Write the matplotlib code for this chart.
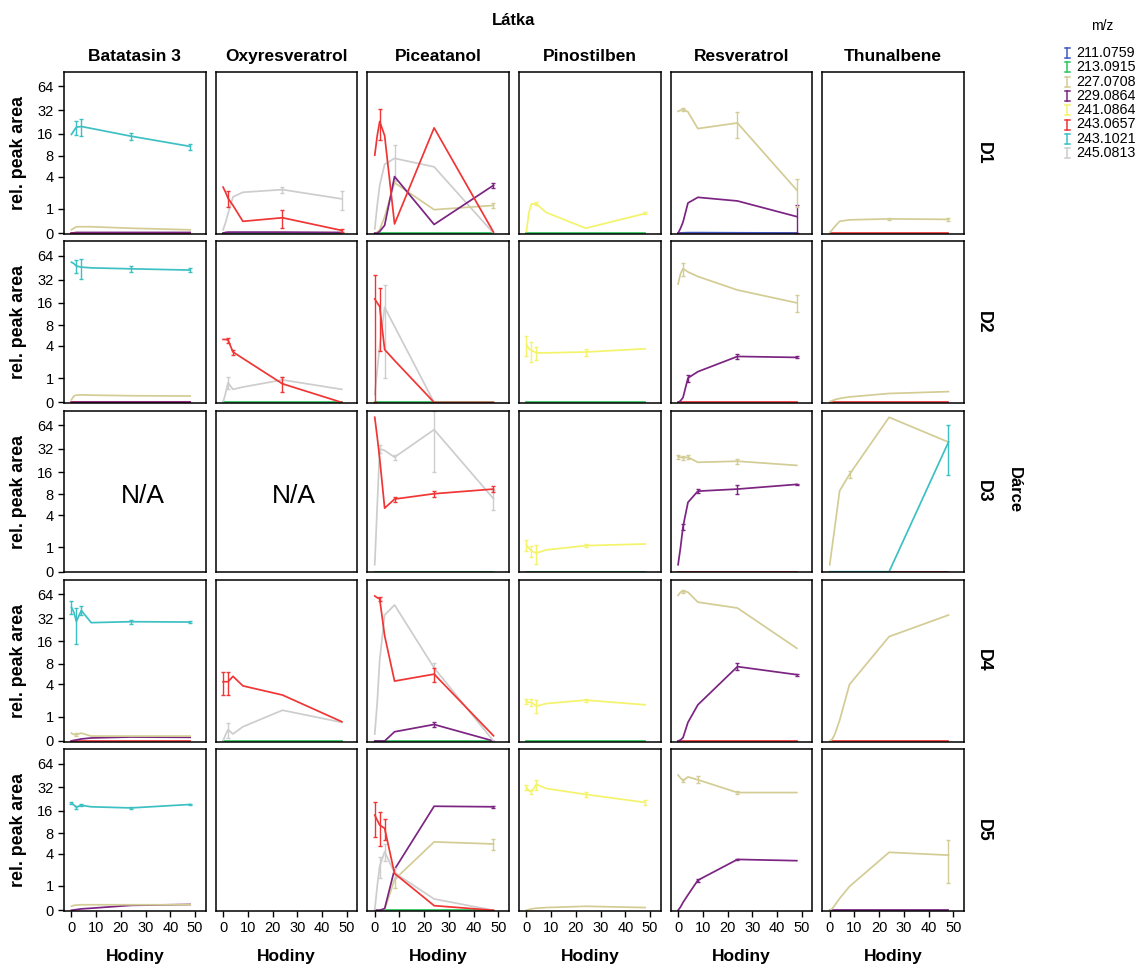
"""Relative peak area over time, faceted by donor (rows) and substance (columns)."""

import matplotlib

matplotlib.use("Agg")
import matplotlib.pyplot as plt
import numpy as np
from matplotlib.lines import Line2D

plt.rcParams["font.family"] = ["Liberation Sans", "DejaVu Sans"]

HOURS = [0, 1, 2, 4, 8, 24, 48]
SUBSTANCES = ["Batatasin 3", "Oxyresveratrol", "Piceatanol", "Pinostilben", "Resveratrol", "Thunalbene"]
DONORS = ["D1", "D2", "D3", "D4", "D5"]
MZ_LABELS = ["211.0759", "213.0915", "227.0708", "229.0864", "241.0864", "243.0657", "243.1021", "245.0813"]
MZ_COLORS = {
    "211.0759": "#4057c0",
    "213.0915": "#2cc45c",
    "227.0708": "#d3cc95",
    "229.0864": "#7b2482",
    "241.0864": "#f4f36c",
    "243.0657": "#f03535",
    "243.1021": "#3dc0c3",
    "245.0813": "#cdcdcd",
}
Y_TICKS = [0, 1, 4, 8, 16, 32, 64]
X_TICKS = [0, 10, 20, 30, 40, 50]

Z = [0, 0, 0, 0, 0, 0, 0]

# each panel: m/z -> (values per HOURS, error per HOURS)
BAT_D1 = {
    "243.0657": (Z, Z),
    "229.0864": ([0, 0.01, 0.02, 0.02, 0.02, 0.02, 0.02], Z),
    "227.0708": ([0.1, 0.15, 0.2, 0.2, 0.2, 0.15, 0.1], Z),
    "243.1021": ([15.6, 17.5, 19.4, 19.8, 18.7, 14.8, 10.8], [0, 0, 4, 5, 0, 1.5, 1]),
}
OXY_D1 = {
    "213.0915": (Z, Z),
    "229.0864": ([0, 0.02, 0.03, 0.03, 0.03, 0.03, 0.02], Z),
    "245.0813": ([0.1, 0.35, 0.75, 1.8, 2.2, 2.45, 1.65], [0, 0, 0, 0, 0, 0.3, 0.7]),
    "243.0657": ([2.7, 2.2, 1.7, 1.2, 0.4, 0.55, 0.08], [0, 0, 0.6, 0, 0, 0.4, 0.05]),
}
PIC_D1 = {
    "213.0915": (Z, Z),
    "245.0813": ([0.13, 1.2, 2.9, 6.1, 7.4, 5.6, 0], [0, 0, 0, 0, 4, 0, 0]),
    "227.0708": ([0, 0.03, 0.1, 0.6, 3.2, 0.95, 1.2], [0, 0, 0, 0, 0, 0, 0.15]),
    "229.0864": ([0, 0, 0.05, 0.25, 4.0, 0.28, 2.9], [0, 0, 0, 0, 0, 0, 0.3]),
    "243.0657": ([8.2, 15, 23, 15, 0.3, 19, 0.03], [0, 0, 10, 0, 0, 0, 0]),
}
PIN_D1 = {
    "213.0915": (Z, Z),
    "241.0864": ([0.05, 0.8, 1.3, 1.3, 0.8, 0.15, 0.75], [0, 0, 0, 0.1, 0, 0, 0.05]),
}
RES_D1 = {
    "243.0657": (Z, Z),
    "211.0759": ([0, 0, 0.01, 0.015, 0.015, 0.01, 0.005], Z),
    "229.0864": ([0, 0.15, 0.37, 1.36, 1.77, 1.5, 0.6], [0, 0, 0, 0, 0, 0, 0.6]),
    "227.0708": ([31, 32, 33, 30.5, 18.6, 22, 2.4], [0, 0, 1.5, 0, 0, 8, 1.3]),
}
THU_D1 = {
    "243.0657": (Z, Z),
    "227.0708": ([0.02, 0.1, 0.2, 0.4, 0.46, 0.5, 0.48], [0, 0, 0, 0, 0, 0.05, 0.05]),
}

BAT_D2 = {
    "243.0657": (Z, Z),
    "229.0864": ([0, 0.01, 0.01, 0.01, 0.01, 0.01, 0.01], Z),
    "227.0708": ([0.08, 0.2, 0.23, 0.24, 0.23, 0.21, 0.2], Z),
    "243.1021": ([53, 51, 47.5, 46, 45, 43.8, 42.2], [0, 0, 9, 13, 0, 3.5, 2.5]),
}
OXY_D2 = {
    "213.0915": (Z, Z),
    "245.0813": ([0, 0.3, 0.75, 0.45, 0.55, 0.9, 0.45], [0, 0, 0.3, 0, 0, 0.15, 0]),
    "243.0657": ([5.0, 5.0, 4.9, 3.2, 2.5, 0.7, 0], [0, 0, 0.4, 0.3, 0, 0.35, 0]),
}
PIC_D2 = {
    "213.0915": (Z, Z),
    "245.0813": ([0.25, 1.5, 4, 14, 7.7, 0, 0], [0, 0, 0, 13, 0, 0, 0]),
    "243.0657": ([18, 16, 14.3, 3.5, 2.3, 0, 0], [19, 0, 11, 0, 0, 0, 0]),
}
PIN_D2 = {
    "213.0915": (Z, Z),
    "241.0864": ([4.2, 3.6, 3.4, 3.1, 3.1, 3.2, 3.6], [1.5, 0, 1.2, 0.8, 0, 0.4, 0]),
}
RES_D2 = {
    "243.0657": (Z, Z),
    "229.0864": ([0, 0.05, 0.15, 1.0, 1.4, 2.7, 2.6], [0, 0, 0, 0.2, 0, 0.3, 0.1]),
    "227.0708": ([28, 38, 44, 40, 35, 23.5, 16], [0, 0, 8, 0, 0, 0, 4]),
}
THU_D2 = {
    "243.0657": (Z, Z),
    "227.0708": ([0.02, 0.05, 0.08, 0.12, 0.17, 0.29, 0.36], Z),
}

PIC_D3 = {
    "213.0915": (Z, Z),
    "245.0813": ([0.22, 5.5, 32, 30.5, 25, 56, 7], [0, 0, 4, 0, 2, 40, 2.2]),
    "243.0657": ([80, 45, 24, 5.1, 6.9, 8.2, 9.5], [0, 0, 0, 0, 0.6, 0.8, 0.8]),
}
PIN_D3 = {
    "213.0915": (Z, Z),
    "241.0864": ([1.15, 0.95, 0.8, 0.7, 0.86, 1.1, 1.2], [0.35, 0, 0.3, 0.45, 0, 0.1, 0]),
}
RES_D3 = {
    "243.0657": (Z, Z),
    "227.0708": ([25.5, 25, 24.5, 25, 21.5, 22.2, 19.6], [1.5, 0, 1.5, 1.5, 0, 1.5, 0]),
    "229.0864": ([0.22, 1.0, 2.6, 6.2, 8.9, 9.5, 11], [0, 0, 0.3, 0, 0.5, 1.3, 0.3]),
}
THU_D3 = {
    "243.0657": (Z, Z),
    "227.0708": ([0.22, 1.06, 2.47, 9.0, 15, 80, 39], [0, 0, 0, 0, 1.5, 0, 0]),
    "243.1021": ([0, 0, 0, 0, 0, 0, 39], [0, 0, 0, 0, 0, 0, 24.5]),
}

BAT_D4 = {
    "243.0657": (Z, Z),
    "229.0864": ([0, 0.02, 0.03, 0.06, 0.09, 0.12, 0.11], Z),
    "227.0708": ([0.25, 0.2, 0.2, 0.25, 0.15, 0.15, 0.15], [0, 0, 0.05, 0, 0, 0, 0]),
    "243.1021": ([44, 38, 29, 40, 28, 28.8, 28.5], [8, 0, 14, 5, 0, 1.5, 1]),
}
OXY_D4 = {
    "213.0915": (Z, Z),
    "245.0813": ([0, 0.2, 0.38, 0.22, 0.5, 1.4, 0.7], [0, 0, 0.3, 0, 0, 0, 0]),
    "243.0657": ([4.4, 4.4, 4.4, 5.3, 3.8, 2.7, 0.73], [1.7, 0, 1.7, 0, 0, 0, 0]),
}
PIC_D4 = {
    "213.0915": (Z, Z),
    "229.0864": ([0, 0, 0, 0, 0.3, 0.6, 0], [0, 0, 0, 0, 0, 0.1, 0]),
    "245.0813": ([0.22, 2, 9, 35, 47, 7, 0], [0, 0, 0, 0, 0, 1.3, 0]),
    "243.0657": ([61, 58, 56, 19, 4.5, 5.7, 0.16], [0, 0, 3, 0, 0, 1.3, 0]),
}
PIN_D4 = {
    "213.0915": (Z, Z),
    "241.0864": ([2.1, 2.0, 2.0, 1.7, 1.9, 2.2, 1.8], [0.2, 0, 0.3, 0.5, 0, 0.15, 0]),
}
RES_D4 = {
    "243.0657": (Z, Z),
    "229.0864": ([0, 0.03, 0.1, 0.7, 1.8, 7.3, 5.6], [0, 0, 0, 0, 0, 0.8, 0.2]),
    "227.0708": ([62, 68, 70, 68, 51, 43, 13], [0, 0, 3, 0, 0, 0, 0]),
}
THU_D4 = {
    "243.0657": (Z, Z),
    "227.0708": ([0, 0.05, 0.2, 0.8, 4.0, 18.5, 35], Z),
}

BAT_D5 = {
    "229.0864": ([0, 0.01, 0.02, 0.04, 0.06, 0.15, 0.18], Z),
    "227.0708": ([0.12, 0.15, 0.16, 0.17, 0.17, 0.17, 0.17], Z),
    "243.1021": ([20.2, 19, 17.8, 18.8, 18, 17.4, 19.3], [0.5, 0, 0.8, 0.5, 0, 0.6, 0.4]),
}
OXY_D5 = {}
PIC_D5 = {
    "213.0915": (Z, Z),
    "227.0708": ([0, 0, 0, 0.02, 1.4, 6.0, 5.6], [0, 0, 0, 0, 0.5, 0, 1.0]),
    "229.0864": ([0, 0, 0, 0.05, 2.2, 18.3, 18], [0, 0, 0, 0, 0, 0, 0.5]),
    "245.0813": ([0, 1.0, 2.5, 4.3, 1.9, 0.38, 0], [0, 0, 1, 1.2, 0.4, 0, 0]),
    "243.0657": ([14, 12, 10.3, 9.3, 1.85, 0.14, 0], [7, 0, 5, 3, 0, 0, 0]),
}
PIN_D5 = {
    "227.0708": ([0, 0.02, 0.04, 0.06, 0.08, 0.12, 0.08], Z),
    "241.0864": ([32, 29, 28, 35, 31, 26, 20.5], [2, 0, 2, 5, 0, 2, 1.5]),
}
RES_D5 = {
    "229.0864": ([0, 0.1, 0.25, 0.55, 1.35, 3.25, 3.1], [0, 0, 0, 0, 0.1, 0.1, 0]),
    "227.0708": ([46, 42, 39, 43.5, 40, 27.5, 27.5], [0, 0, 2, 0, 4, 1.5, 0]),
}
THU_D5 = {
    "229.0864": (Z, Z),
    "227.0708": ([0, 0.05, 0.15, 0.4, 0.97, 4.2, 3.8], [0, 0, 0, 0, 0, 0, 2.6]),
}

# None = N/A panel
PANELS = [
    [BAT_D1, OXY_D1, PIC_D1, PIN_D1, RES_D1, THU_D1],
    [BAT_D2, OXY_D2, PIC_D2, PIN_D2, RES_D2, THU_D2],
    [None, None, PIC_D3, PIN_D3, RES_D3, THU_D3],
    [BAT_D4, OXY_D4, PIC_D4, PIN_D4, RES_D4, THU_D4],
    [BAT_D5, OXY_D5, PIC_D5, PIN_D5, RES_D5, THU_D5],
]


def _fwd(y):
    return np.log2(np.clip(y, -0.5, None) + 1)


def _inv(y):
    return 2.0 ** y - 1


fig, axes = plt.subplots(5, 6, figsize=(11.39, 9.68), dpi=100)
fig.subplots_adjust(left=0.0562, right=0.8464, top=0.9256, bottom=0.0589, wspace=0.07, hspace=0.046)

hours = np.array(HOURS, dtype=float)
for r, donor in enumerate(DONORS):
    for c, substance in enumerate(SUBSTANCES):
        ax = axes[r, c]
        ax.set_yscale("function", functions=(_fwd, _inv))
        ax.set_ylim(-0.02, 97)
        ax.set_xlim(-3, 54.3)
        ax.set_yticks(Y_TICKS)
        ax.set_yticklabels([str(t) for t in Y_TICKS])
        ax.set_xticks(X_TICKS)
        ax.minorticks_off()
        for sp in ax.spines.values():
            sp.set_linewidth(1.1)
        ax.tick_params(labelsize=10.5, length=4, width=1, direction="out")
        if c > 0:
            ax.tick_params(left=False, labelleft=False)
        if r < len(DONORS) - 1:
            ax.tick_params(bottom=False, labelbottom=False)

        data = PANELS[r][c]
        if data is None:
            ax.text(0.555, 0.47, "N/A", transform=ax.transAxes, ha="center", va="center", fontsize=19)
            continue
        for mz, (vals, errs) in data.items():
            color = MZ_COLORS[mz]
            v = np.array(vals, dtype=float)
            e = np.array(errs, dtype=float)
            ax.plot(hours, v, color=color, lw=1.25, solid_joinstyle="round", zorder=2)
            m = e > 0
            if m.any():
                lower = np.minimum(e[m], v[m])
                ax.errorbar(hours[m], v[m], yerr=[lower, e[m]], fmt="none", ecolor=color,
                            elinewidth=1.0, capsize=1.5, capthick=1.0, zorder=2)

# column titles, row strips, axis titles
for c, substance in enumerate(SUBSTANCES):
    pos = axes[0, c].get_position()
    xc = (pos.x0 + pos.x1) / 2
    fig.text(xc, 0.942, substance, ha="center", va="center", fontsize=12.5, fontweight="bold")
    fig.text(xc, 0.0114, "Hodiny", ha="center", va="center", fontsize=12.5, fontweight="bold")

for r, donor in enumerate(DONORS):
    pos = axes[r, 0].get_position()
    yc = (pos.y0 + pos.y1) / 2
    fig.text(0.0165, yc, "rel. peak area", ha="center", va="center", rotation=90,
             fontsize=12.8, fontweight="bold")
    fig.text(0.8635, yc, donor, ha="center", va="center", rotation=270,
             fontsize=12.8, fontweight="bold")

fig.text(0.451, 0.979, "Látka", ha="center", va="center", fontsize=12, fontweight="bold")
fig.text(0.891, 0.494, "Dárce", ha="center", va="center", rotation=270, fontsize=12, fontweight="bold")

# legend: error-bar glyphs drawn in figure pixels
W, H = 1139.0, 968.0
fig.text(1102 / W, 1 - 26 / H, "m/z", ha="center", va="center", fontsize=10)
for i, mz in enumerate(MZ_LABELS):
    y = 53 + i * 14.3
    color = MZ_COLORS[mz]
    gx = 1067
    fig.add_artist(Line2D([gx / W, gx / W], [1 - (y - 5) / H, 1 - (y + 5) / H], color=color, lw=1.1))
    fig.add_artist(Line2D([(gx - 2.5) / W, (gx + 2.5) / W], [1 - (y - 5) / H] * 2, color=color, lw=1.1))
    fig.add_artist(Line2D([(gx - 2.5) / W, (gx + 2.5) / W], [1 - (y + 5) / H] * 2, color=color, lw=1.1))
    fig.text(1076 / W, 1 - y / H, mz, ha="left", va="center", fontsize=10.3)

fig.savefig("out.png", dpi=100)
